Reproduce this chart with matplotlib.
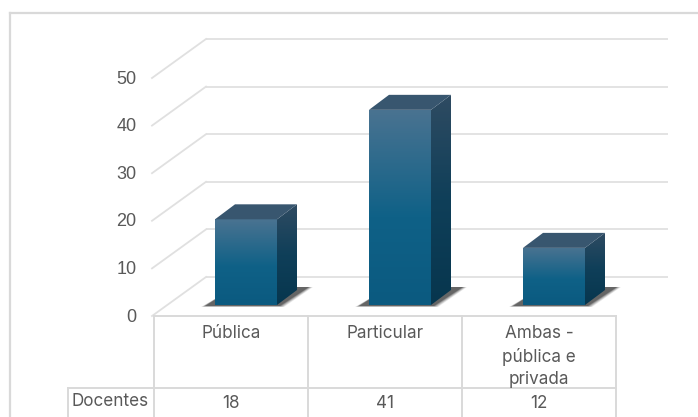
"""Docentes por tipo de escola: fake-3D column chart with a data table below."""

import matplotlib

matplotlib.use("Agg")

import matplotlib.pyplot as plt
import numpy as np
from matplotlib.colors import LinearSegmentedColormap
from matplotlib.patches import Polygon
from matplotlib.transforms import Affine2D

CATEGORIES = ["Pública", "Particular", "Ambas -\npública e\nprivada"]
DOCENTES = [18, 41, 12]
Y_TICKS = [0, 10, 20, 30, 40, 50]
ROW_LABEL = "Docentes"

W, H = 698, 417
FRAME = "#d9d9d9"
GRID = "#e0e0e0"
TEXT = "#595959"

FRONT = LinearSegmentedColormap.from_list(
    "front", [(0, "#4a7391"), (0.55, "#0f6187"), (1, "#0b5a80")], N=512)
SIDE = LinearSegmentedColormap.from_list(
    "side", [(0, "#2f4b62"), (0.5, "#0f3f59"), (1, "#07364e")], N=512)
TOP_COLOR = "#38566f"


def px(x, y):
    """Figure pixel (origin top left) to figure fraction."""
    return x / W, 1 - y / H


plt.rcParams["font.family"] = ["Inter", "DejaVu Sans"]
fig = plt.figure(figsize=(W / 100, H / 100), dpi=100, facecolor="white")

# front plane of the chart: x is category index, y is the value
left, right, y0, y50 = 154, 616, 316, 78
ax = fig.add_axes([left / W, 1 - y0 / H, (right - left) / W, (y0 - y50) / H])
ax.set_xlim(-0.5, 2.5)
ax.set_ylim(0, 50)
ax.patch.set_alpha(0)
for s in ax.spines.values():
    s.set_visible(False)
ax.set_xticks([])
ax.set_yticks(Y_TICKS)
ax.tick_params(axis="y", length=0, pad=12.5, labelsize=13, labelcolor=TEXT)
for lab in ax.get_yticklabels():
    lab.set_family("Liberation Sans")
    lab.set_transform(lab.get_transform() + Affine2D().translate(0, 1))


def shifted(dx, dy):
    """Data transform moved by pixels (dy up), for the depth of the 3D box."""
    return ax.transData + Affine2D().translate(dx, dy)


# back wall and side wall gridlines
wall = shifted(52, 39)
for t in Y_TICKS:
    ax.plot([-0.5, 2.5], [t, t], color=GRID, lw=1.3, transform=wall,
            clip_on=False, solid_capstyle="butt")
    fx, fy = ax.transData.transform((-0.5, t))
    ax.plot([fx - 2, fx + 52], [fy, fy + 39], color=GRID, lw=1.3,
            transform=None, clip_on=False)

# depth of the bars and their offset from the front plane, pixels
bar_w = 62 / 154
dx, dy = 20, 15
base = shifted(15, 11)


def gradient(cmap, clip, extent):
    img = ax.imshow(np.linspace(0, 1, 256)[:, None], cmap=cmap, aspect="auto",
                    extent=extent, origin="upper", transform=None, zorder=3,
                    interpolation="bilinear")
    img.set_clip_path(clip)
    ax.set_xlim(-0.5, 2.5)
    ax.set_ylim(0, 50)


for i, v in enumerate(DOCENTES):
    xl, yb = base.transform((i - bar_w / 2, 0))
    xr, yt = base.transform((i + bar_w / 2, v))

    # soft floor shadow, layered polygons
    for grow, a in [(4, 0.1), (3, 0.14), (2, 0.18), (1, 0.25), (0, 0.35)]:
        ax.add_patch(Polygon(
            [(xl - 10 - grow, yb - 1 - grow * 0.25),
             (xr + 3 + grow, yb - 1 - grow * 0.25),
             (xr + 32 + grow, yb + 18),
             (xl + 20, yb + 18)],
            closed=True, fc="#222222", ec="none", alpha=a, zorder=2,
            transform=None, clip_on=False))

    front = Polygon([(xl, yb), (xr, yb), (xr, yt), (xl, yt)], closed=True,
                    fc="none", ec="none", transform=None)
    side = Polygon([(xr, yb), (xr + dx, yb + dy), (xr + dx, yt + dy), (xr, yt)],
                   closed=True, fc="none", ec="none", transform=None)
    ax.add_patch(front)
    ax.add_patch(side)
    gradient(FRONT, front, (xl, xr, yb, yt))
    gradient(SIDE, side, (xr, xr + dx, yb, yt + dy))
    ax.add_patch(Polygon(
        [(xl, yt), (xr, yt), (xr + dx, yt + dy), (xl + dx, yt + dy)],
        closed=True, fc=TOP_COLOR, ec="none", transform=None, zorder=4,
        clip_on=False))


def fig_line(x0, y0_, x1, y1, lw=1.4):
    a, b = px(x0, y0_), px(x1, y1)
    fig.add_artist(plt.Line2D([a[0], b[0]], [a[1], b[1]], color=FRAME, lw=lw,
                              transform=fig.transFigure))


# outer chart frame, cut by the right and bottom of the picture
fig_line(10, 13, W, 13, lw=1.6)
fig_line(10, 13, 10, H, lw=1.6)

# data table
for x in [154, 308, 462, 616]:
    fig_line(x, 316, x, H)
fig_line(154, 316, 616, 316)
fig_line(68, 388, 616, 388)
fig_line(68, 388, 68, H)

for i, (cat, v) in enumerate(zip(CATEGORIES, DOCENTES)):
    cx = 154 + 154 * (i + 0.5)
    fx, fy = px(cx, 325)
    fig.text(fx, fy, cat, ha="center", va="top", fontsize=12.3, color=TEXT,
             linespacing=1.42)
    fx, fy = px(cx, 403)
    fig.text(fx, fy, str(v), ha="center", va="center", fontsize=12.3, color=TEXT)
fx, fy = px(110, 402)
fig.text(fx, fy, ROW_LABEL, ha="center", va="center", fontsize=12.3, color=TEXT)

fig.savefig("out.png", dpi=100)
